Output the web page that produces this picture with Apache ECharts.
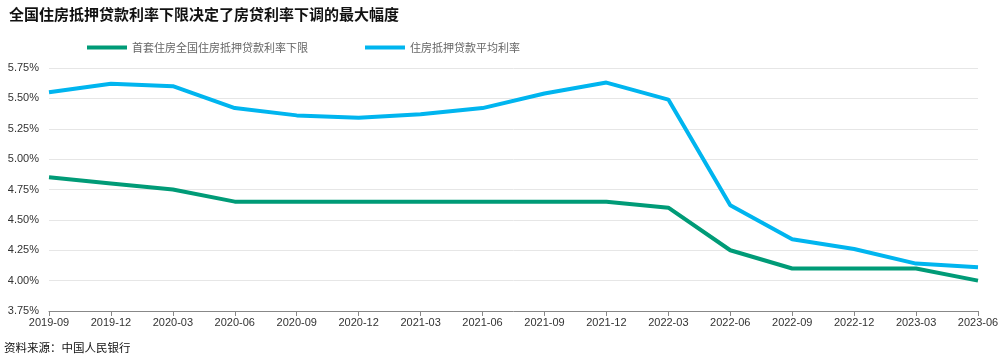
<!DOCTYPE html>
<html><head><meta charset="utf-8">
<script src="https://cdn.jsdelivr.net/npm/echarts@6/dist/echarts.min.js"></script>
<style>html,body{margin:0;padding:0;background:#fff}#c{width:1008px;height:361px}</style>
</head><body><div id="c"></div>
<script>
var categories = ['2019-09','2019-12','2020-03','2020-06','2020-09','2020-12','2021-03','2021-06','2021-09','2021-12','2022-03','2022-06','2022-09','2022-12','2023-03','2023-06'];
var floorRate = [4.85,4.80,4.75,4.65,4.65,4.65,4.65,4.65,4.65,4.65,4.60,4.25,4.10,4.10,4.10,4.00];
var avgRate = [5.55,5.62,5.60,5.42,5.36,5.34,5.37,5.42,5.54,5.63,5.49,4.62,4.34,4.26,4.14,4.11];
var seriesNames = ['首套住房全国住房抵押贷款利率下限','住房抵押贷款平均利率'];
var font = '"Liberation Sans", Arial, "Noto Sans CJK SC", sans-serif';
var chart = echarts.init(document.getElementById('c'));
chart.setOption({
  animation: false,
  textStyle: {fontFamily: font},
  title: {
    text: '全国住房抵押贷款利率下限决定了房贷利率下调的最大幅度',
    left: 4, top: 2,
    textStyle: {fontSize: 15, fontWeight: 'bold', color: '#111', fontFamily: '"Noto Sans CJK SC", sans-serif'}
  },
  legend: {
    left: 82, top: 37,
    itemWidth: 40, itemHeight: 4, itemGap: 57,
    icon: 'rect',
    textStyle: {fontSize: 11, color: '#666', fontFamily: '"Noto Sans CJK SC", sans-serif'},
    data: seriesNames
  },
  graphic: [{
    type: 'text', left: 4, top: 342,
    style: {text: '资料来源：中国人民银行', fill: '#111', font: '11.5px "Noto Sans CJK SC", sans-serif'}
  }],
  grid: {left: 49, right: 30, top: 68, bottom: 50, containLabel: false},
  xAxis: {
    type: 'category', data: categories, boundaryGap: false,
    axisLine: {lineStyle: {color: '#888'}},
    axisTick: {show: true, alignWithLabel: true, lineStyle: {color: '#888'}},
    axisLabel: {fontSize: 11, color: '#333', margin: 6, interval: 0}
  },
  yAxis: {
    type: 'value', min: 3.75, max: 5.75, interval: 0.25,
    axisLine: {show: false}, axisTick: {show: false},
    axisLabel: {fontSize: 11, color: '#333', margin: 10, formatter: function(v){return v.toFixed(2)+'%';}},
    splitLine: {lineStyle: {color: '#e6e6e6'}}
  },
  series: [
    {name: seriesNames[0], type: 'line', data: floorRate, symbol: 'none', lineStyle: {width: 4, color: '#009b77'}, itemStyle: {color: '#009b77'}},
    {name: seriesNames[1], type: 'line', data: avgRate, symbol: 'none', lineStyle: {width: 4, color: '#00b5ef'}, itemStyle: {color: '#00b5ef'}}
  ]
});
</script></body></html>
